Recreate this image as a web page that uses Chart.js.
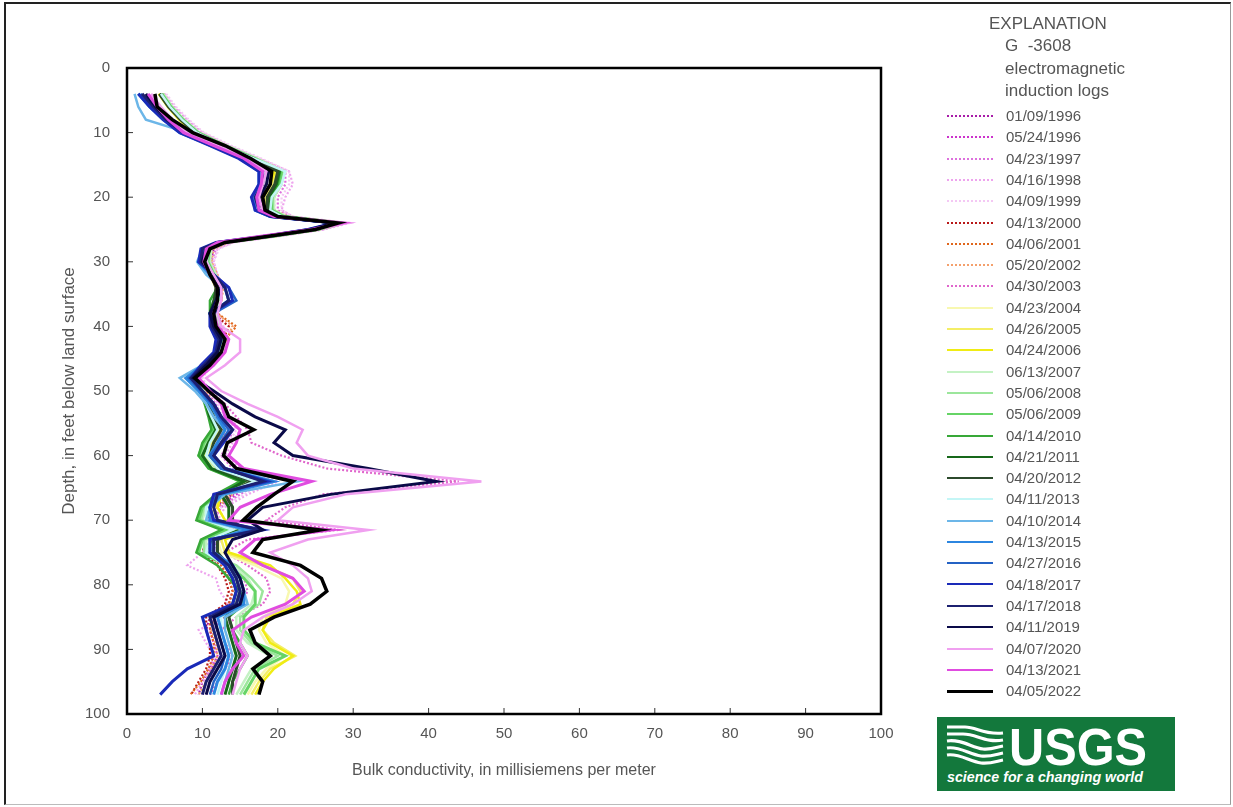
<!DOCTYPE html>
<html>
<head>
<meta charset="utf-8">
<script src="https://cdn.jsdelivr.net/npm/chart.js@4.4.1/dist/chart.umd.min.js"></script>
<style>
  body { margin: 0; background: #fff; }
  #page { position: relative; width: 1233px; height: 807px; overflow: hidden; font-family: "Liberation Sans", Arial, sans-serif; color: #555; }
  #frame { position: absolute; left: 4px; top: 2px; width: 1224px; height: 800px; border-left: 2px solid #222; border-top: 2px solid #222; border-right: 1px solid #999; border-bottom: 1px solid #bbb; }
  canvas { position: absolute; left: 0; top: 0; }
  .hdr { position: absolute; font-size: 17px; line-height: 20px; transform: translateY(-50%); white-space: pre; }
  .row { position: absolute; left: 947px; height: 22px; transform: translateY(-50%); }
  .row .swatch { position: absolute; left: 0; top: 11px; width: 46px; }
  .row .lbl { position: absolute; left: 59px; top: 0; font-size: 15px; line-height: 22px; white-space: nowrap; }
  #logo { position: absolute; left: 937px; top: 717px; }
</style>
</head>
<body>
<div id="page">
  <div id="frame"></div>
  <canvas id="logChart" width="1233" height="807"></canvas>
  <div class="hdr" style="left:989px;top:24px">EXPLANATION</div>
  <div class="hdr" style="left:1005px;top:46px">G  -3608</div>
  <div class="hdr" style="left:1005px;top:69px">electromagnetic</div>
  <div class="hdr" style="left:1005px;top:91px">induction logs</div>
  <div id="legend"></div>
  <svg id="logo" width="238" height="74" viewBox="0 0 238 74">
    <rect width="238" height="74" fill="#13783c"/>
    <g fill="none" stroke="#fff" stroke-width="3.2">
      <path d="M10 10 L28 10 C40 10 46 18 66 16"/>
      <path d="M10 17 L26 17 C40 17 48 26 66 23"/>
      <path d="M10 24 C24 22 34 30 46 32 C54 33 60 30 66 29"/>
      <path d="M10 31 C22 29 32 37 44 39 C54 40 60 37 66 36"/>
      <path d="M10 38 C22 36 32 44 44 46 C54 47 60 44 66 43"/>
    </g>
    <text x="72" y="48" fill="#fff" font-family="Liberation Sans, Arial, sans-serif" font-weight="bold" font-size="52" textLength="138" lengthAdjust="spacingAndGlyphs">USGS</text>
    <text x="10" y="65" fill="#fff" font-family="Liberation Sans, Arial, sans-serif" font-style="italic" font-weight="bold" font-size="14" textLength="196" lengthAdjust="spacingAndGlyphs">science for a changing world</text>
  </svg>
</div>
<script>
// ----- DATA -----
// depth below land surface (ft), shared by every log
const depths = [4, 6, 8, 10, 12, 14, 16, 18, 20, 22, 23, 24, 25, 26, 27, 28, 30, 32, 34, 36, 38, 40, 42, 44, 46, 48, 50, 52, 54, 56, 58, 60, 62, 64, 66, 68, 70, 71.5, 73, 75, 77, 79, 81, 83, 85, 87, 89, 91, 93, 95, 97]

const surveyDates = [
  '01/09/1996', '05/24/1996', '04/23/1997', '04/16/1998', '04/09/1999', '04/13/2000', '04/06/2001', '05/20/2002', '04/30/2003',
  '04/23/2004', '04/26/2005', '04/24/2006', '06/13/2007', '05/06/2008', '05/06/2009', '04/14/2010', '04/21/2011', '04/20/2012',
  '04/11/2013', '04/10/2014', '04/13/2015', '04/27/2016', '04/18/2017', '04/17/2018', '04/11/2019', '04/07/2020', '04/13/2021', '04/05/2022',
]

// bulk conductivity (mS/m) at each depth
const c1996a = [4.8,6.0,7.5,9.5,13.0,17.0,20.0,20.5,19.5,19.5, 21.0,28.5,25.5,19.5,13.5,11.5,11.0,11.5,12.0,12.0, 11.5,12.0,12.5,12.0,10.5,9.0,10.0,11.0,11.5,12.5, 12.0,11.0,12.5,16.0,14.0,11.5,10.5,14.5,11.0,10.5, 12.5,13.5,14.0,13.5,11.0,10.5,11.0,11.5,11.0,10.0, 9.5]
const c1996b = [4.6,5.8,7.3,9.3,12.8,16.8,20.5,20.0,19.0,19.5, 21.0,28.8,25.5,19.5,13.3,11.3,10.8,11.5,12.2,12.0, 11.8,12.2,12.8,12.2,10.8,9.2,10.2,11.2,12.0,13.0, 12.5,11.5,13.0,17.0,14.5,12.0,11.0,15.5,11.5,11.0, 13.0,14.0,14.5,14.0,11.5,11.0,11.5,12.0,11.2,10.5, 10.0]
const c1997 = [4.9,6.2,7.8,9.8,13.2,17.2,21.0,21.0,20.0,20.0, 21.5,29.0,26.0,20.0,13.8,11.8,11.2,11.8,12.5,12.5, 12.0,12.5,13.0,12.5,11.0,9.5,10.5,11.8,12.5,14.0, 13.5,12.5,14.0,18.0,15.0,12.5,11.5,16.0,12.0,11.5, 14.0,15.5,16.0,15.0,12.5,11.5,12.0,12.5,11.5,11.0, 10.5]
const c1998 = [5.0,6.3,8.0,10.0,13.5,17.5,21.5,22.0,21.0,20.5, 22.0,29.5,26.0,20.5,14.0,12.0,11.5,12.0,12.5,12.5, 12.0,12.5,13.0,12.5,11.0,9.8,11.0,12.5,13.5,15.0, 14.0,13.0,15.0,20.0,16.0,13.0,12.0,17.0,12.5,10.0, 8.0,11.8,12.3,13.5,13.0,9.5,10.5,11.5,11.0,10.0, 9.0]
const c1999 = [5.2,6.5,8.2,10.2,13.8,17.8,21.5,21.5,20.5,20.5, 22.0,29.0,26.0,20.5,14.2,12.2,11.5,12.0,12.5,12.5, 12.2,12.8,13.2,12.8,11.2,10.0,11.0,12.0,13.0,14.5, 13.5,12.5,14.5,19.0,15.5,12.5,11.5,16.5,12.5,11.5, 13.5,15.0,15.5,14.5,12.0,11.5,12.0,12.5,11.5,10.5, 10.0]
const c2000 = [4.5,5.6,7.2,9.2,12.8,16.8,20.0,19.0,18.0,18.5, 20.5,28.5,25.0,19.5,13.0,11.0,10.8,11.5,12.0,12.0, 11.5,13.5,12.8,12.0,10.5,9.0,10.0,11.0,11.5,12.0, 11.5,10.5,12.0,15.0,13.0,11.0,10.5,13.5,10.5,10.0, 12.0,13.0,13.5,13.0,10.5,10.5,11.0,11.0,10.5,9.5, 8.5]
const c2001 = [4.7,5.8,7.4,9.4,13.0,17.0,20.5,19.5,18.5,19.0, 21.0,28.8,25.5,19.8,13.2,11.2,11.0,11.8,12.5,12.5, 12.0,14.5,13.0,12.2,10.8,9.2,10.2,11.2,11.8,12.5, 12.0,11.0,12.5,15.5,13.5,11.5,11.0,14.0,11.0,10.5, 12.5,13.5,14.0,13.5,11.0,11.0,11.5,11.5,10.8,9.8, 8.4]
const c2002 = [4.8,6.0,7.6,9.6,13.2,17.2,21.0,20.5,19.5,19.5, 21.5,29.0,25.5,20.0,13.5,11.5,11.2,12.0,12.8,12.5, 12.0,14.0,13.2,12.5,11.0,9.5,10.5,11.5,12.0,13.0, 12.5,11.5,13.0,16.5,14.0,12.0,11.5,15.0,11.5,11.0, 13.0,14.0,14.5,14.0,11.5,11.2,11.8,12.0,11.2,10.5, 9.5]
const c2003 = [4.6,5.8,7.4,9.4,12.8,16.8,20.5,20.0,19.0,19.0, 21.0,29.0,25.5,19.5,13.2,11.2,11.0,11.5,12.5,12.5, 12.0,12.5,13.5,13.0,11.5,9.5,11.0,13.0,14.5,16.0, 16.5,20.5,26.5,44.0,26.0,21.0,18.5,28.0,16.0,13.0, 16.0,18.5,19.0,18.0,14.5,12.5,13.0,14.0,13.0,12.0, 11.0]
const c2004 = [4.4,5.6,7.2,9.2,12.8,16.8,20.0,19.5,18.5,18.8, 20.5,28.5,25.0,19.5,13.0,11.0,10.8,11.5,12.2,12.0, 11.5,12.0,12.5,12.0,10.5,9.0,10.0,11.0,11.5,12.5, 11.5,10.5,12.0,16.0,13.0,11.5,11.5,15.0,12.0,12.5, 17.0,20.5,21.5,21.0,18.0,17.5,18.5,21.0,18.5,17.0, 16.0]
const c2005 = [4.3,5.5,7.0,9.0,12.5,16.5,19.8,19.2,18.2,18.5, 20.2,28.2,24.8,19.2,12.8,10.8,10.5,11.2,12.0,11.8, 11.2,11.8,12.2,11.8,10.2,8.8,9.8,10.8,11.2,12.2, 11.2,10.2,11.8,15.5,12.8,11.5,12.0,15.5,12.5,13.0, 18.0,22.0,23.0,22.0,18.5,18.0,19.5,22.3,19.0,17.5, 16.5]
const c2006 = [4.2,5.4,6.9,8.9,12.4,16.4,19.6,19.0,18.0,18.3, 20.0,28.0,24.6,19.0,12.6,10.6,10.4,11.0,11.8,11.6, 11.0,11.6,12.0,11.6,10.0,8.6,9.6,10.6,11.0,12.0, 11.0,10.0,11.5,15.0,12.5,12.0,13.0,16.0,13.0,13.5, 19.0,21.0,22.5,23.0,19.0,18.0,19.0,22.0,19.5,18.0, 17.0]
const c2007 = [4.8,6.0,7.6,9.6,13.2,17.2,20.8,20.5,19.5,19.5, 21.2,28.8,25.5,19.8,13.2,11.2,11.0,11.8,12.5,12.2, 11.8,12.2,12.8,12.2,10.8,9.2,10.2,11.0,11.5,12.0, 11.0,10.0,11.5,15.5,12.5,10.5,10.0,14.0,10.5,10.5, 14.0,16.0,17.0,16.5,14.5,14.5,16.0,19.0,16.5,15.5, 14.5]
const c2008 = [4.7,5.9,7.5,9.5,13.0,17.0,20.6,20.3,19.3,19.3, 21.0,28.6,25.3,19.6,13.0,11.0,10.8,11.6,12.3,12.0, 11.6,12.0,12.6,12.0,10.6,9.0,10.0,10.8,11.2,11.8, 10.5,9.8,11.2,15.0,12.2,10.2,9.8,13.5,10.2,10.2, 14.5,16.5,18.0,17.5,15.0,15.0,16.5,20.0,17.0,16.0, 15.0]
const c2009 = [4.6,5.8,7.4,9.4,12.9,16.9,20.5,20.2,19.2,19.2, 20.8,28.5,25.2,19.5,12.9,10.9,10.7,11.5,12.2,11.9, 11.5,11.9,12.5,11.9,10.5,8.9,9.8,10.5,11.0,11.5, 10.2,9.5,11.0,15.5,12.0,10.0,9.5,13.0,10.0,9.5, 13.5,15.5,17.0,17.0,15.5,15.5,17.0,21.0,17.5,16.5, 15.5]
const c2010 = [4.5,5.7,7.3,9.3,12.8,16.8,20.3,20.0,19.0,19.0, 20.6,28.3,25.0,19.3,12.8,10.8,10.6,11.4,12.0,11.0, 11.0,11.8,12.3,11.8,10.3,8.8,9.7,10.3,10.8,11.2, 10.0,9.5,10.8,15.0,11.8,9.8,9.2,12.5,9.8,9.2, 12.0,13.5,15.0,15.5,13.5,14.0,15.0,16.0,15.0,14.0, 13.5]
const c2011 = [4.4,5.6,7.2,9.2,12.7,16.7,20.2,19.8,18.8,18.8, 20.4,28.2,24.8,19.2,12.7,10.7,10.5,11.3,12.0,11.5, 11.0,11.6,12.2,11.7,10.2,8.7,9.8,10.5,11.0,11.8, 10.8,10.0,11.2,15.5,12.5,13.5,13.5,15.0,11.0,11.5, 13.0,14.0,14.5,14.0,13.0,13.5,14.0,14.5,14.0,13.5, 13.0]
const c2012 = [4.3,5.5,7.1,9.1,12.6,16.6,20.0,19.6,18.6,18.6, 20.2,28.0,24.6,19.0,12.6,10.6,10.4,11.2,11.8,11.6, 11.2,11.8,12.3,11.8,10.3,8.8,9.9,10.8,11.5,12.5, 11.5,11.0,12.0,16.5,13.0,14.0,14.0,15.5,12.0,12.0, 13.5,14.5,15.0,14.5,13.5,14.0,14.5,15.0,14.5,14.0, 14.0]
const c2013 = [4.5,5.7,7.3,9.3,12.8,16.8,21.0,20.5,19.2,19.0, 20.6,28.3,25.0,19.3,12.8,10.8,10.6,11.4,12.2,12.0, 11.5,12.0,12.5,12.0,10.5,8.5,9.5,10.5,11.2,12.0, 11.0,10.5,12.0,17.0,12.5,10.5,10.5,14.0,11.0,10.5, 13.0,14.5,15.0,14.5,12.5,12.5,13.0,13.5,13.0,12.5, 12.0]
const c2014 = [1.0,1.5,2.5,8.0,11.0,15.5,18.5,18.0,17.0,17.0, 19.0,27.5,24.0,18.5,12.0,10.0,9.3,10.5,12.5,12.0, 11.0,11.5,12.5,12.0,10.0,7.0,9.0,10.5,11.5,13.0, 12.0,11.0,13.0,22.5,13.0,11.0,10.5,15.5,11.5,11.0, 14.0,15.0,15.5,16.0,13.0,13.0,13.5,14.0,13.5,13.0, 12.5]
const c2015 = [1.5,3.0,4.8,7.0,11.2,15.0,17.5,17.5,16.8,17.0, 19.0,27.8,24.2,18.5,12.0,10.0,9.5,11.0,13.0,13.5, 11.0,11.5,12.5,12.0,10.0,7.8,9.5,11.0,12.0,13.0, 12.0,11.0,12.5,19.5,12.5,11.0,11.0,16.0,11.5,11.5, 14.0,15.0,15.5,15.5,12.0,12.5,13.0,13.5,13.0,12.0, 11.5]
const c2016 = [1.8,3.2,5.0,7.2,11.5,15.5,18.0,18.0,17.2,17.5, 19.3,28.0,24.5,18.8,12.2,10.2,9.8,11.5,13.5,14.5, 11.5,11.2,12.0,11.8,10.0,8.2,9.8,11.2,12.2,13.5, 12.5,11.0,12.5,19.0,12.0,11.0,11.5,17.0,11.0,11.0, 13.5,14.5,15.0,15.0,11.5,12.0,12.5,13.0,12.5,11.5, 11.0]
const c2017 = [1.5,3.0,4.8,7.0,11.0,14.8,17.5,17.5,16.5,17.0, 19.0,27.5,24.0,18.5,11.8,9.8,9.5,11.5,13.5,14.0, 11.0,11.0,11.8,11.5,9.8,8.5,10.0,11.5,12.5,14.0, 12.8,11.5,13.0,18.5,11.5,11.0,11.5,18.0,11.0,11.0, 13.0,14.0,14.5,14.0,10.0,10.5,11.0,11.5,8.0,6.0, 4.4]
const c2018 = [2.0,3.5,5.2,7.5,11.5,15.5,18.0,18.0,17.0,17.5, 19.2,27.8,24.3,18.8,12.0,10.0,9.8,11.5,13.0,13.5, 11.2,11.2,12.2,11.8,10.2,8.5,10.0,11.5,12.5,14.0, 12.5,11.5,13.0,18.0,12.0,11.5,12.0,17.5,11.5,11.5, 13.5,14.5,15.0,14.5,11.0,11.5,12.0,12.5,11.5,10.5, 10.0]
const c2019 = [2.5,3.8,5.5,7.8,11.8,16.0,18.8,18.5,17.6,18.0, 19.5,27.5,24.5,18.5,12.5,10.5,10.0,11.2,12.5,11.8, 11.0,11.5,12.5,12.0,10.5,8.8,11.5,14.0,17.0,21.0, 19.5,22.0,32.0,41.0,27.0,18.0,16.0,18.0,14.0,13.0, 14.0,15.0,15.5,15.0,11.5,12.0,12.5,13.0,12.0,11.0, 10.5]
const c2020 = [3.2,4.5,6.0,8.0,12.0,16.0,18.5,18.0,17.5,18.0, 20.0,29.3,25.0,18.5,12.5,10.8,10.5,11.5,12.5,12.5, 12.0,12.5,15.0,15.0,13.0,10.5,12.5,16.0,20.0,23.3, 22.5,24.0,30.0,47.0,29.0,22.0,20.0,32.0,24.0,19.0, 22.0,24.0,24.5,22.0,18.0,15.5,15.0,16.0,15.0,14.5, 14.0]
const c2021 = [2.8,4.0,5.5,7.5,11.5,15.5,18.0,17.8,17.2,17.5, 19.5,28.5,24.5,18.0,12.0,10.5,10.2,11.0,12.0,12.0, 11.5,12.0,13.5,13.0,11.5,9.5,11.0,12.5,13.0,15.0, 14.5,13.5,15.5,24.5,19.0,15.0,13.5,27.0,17.0,15.0, 18.0,22.0,23.5,21.0,16.5,14.0,14.5,15.5,14.0,13.0, 12.5]
const c2022 = [3.7,4.0,6.0,8.7,13.0,16.4,19.2,19.0,18.0,18.3, 20.0,28.0,25.0,19.0,13.0,11.0,10.3,11.0,12.0,12.0, 11.5,11.8,13.0,12.5,11.0,9.0,10.8,12.8,13.5,16.8, 13.3,12.8,14.5,22.0,19.5,17.2,15.4,25.6,18.0,16.7, 23.0,25.8,26.5,24.3,19.5,16.3,17.0,19.0,16.7,18.0, 17.5]

const logs = [c1996a, c1996b, c1997, c1998, c1999, c2000, c2001, c2002, c2003,
  c2004, c2005, c2006, c2007, c2008, c2009, c2010, c2011, c2012,
  c2013, c2014, c2015, c2016, c2017, c2018, c2019, c2020, c2021, c2022]

// ----- STYLE -----
const lineColors = [
  '#a81ca8', '#cc33cc', '#dd70dd', '#eea4ee', '#f4c8f4', '#b81818', '#e0661c', '#f4a06c', '#e066cc',
  '#f8f8b0', '#f4ee66', '#f0ec14', '#c4f2c4', '#9ce69c', '#66d466', '#38a838', '#17681a', '#2c4a2c',
  '#c4f6f6', '#6cb6e8', '#2c86e0', '#2462c4', '#1a2ab8', '#1c2070', '#0a0a48', '#f0a0f0', '#e04ce0', '#000000',
]
const lineWidths = [2.2, 2.2, 2.2, 2.2, 2.2, 2.2, 2.2, 2.2, 2.2, 2.5, 2.5, 2.5, 2.5, 2.5, 3, 2.5, 3, 3, 2.5, 2.5, 3, 2.5, 3, 3, 3, 2.5, 3, 3.5]
const dottedCount = 9 // the 1996-2003 logs are drawn dotted

const FONT = '"Liberation Sans", Arial, sans-serif'
const TEXT = '#555'

// ----- CHART -----
// inward tick marks and the heavy frame round the plot
const frameAndTicks = {
  id: 'frameAndTicks',
  afterDraw(chart) {
    const { ctx, chartArea: a, scales: { x, y } } = chart
    ctx.save()
    ctx.strokeStyle = '#333'
    ctx.lineWidth = 1
    ctx.beginPath()
    y.ticks.forEach((t) => {
      const py = y.getPixelForValue(t.value)
      ctx.moveTo(a.left, py)
      ctx.lineTo(a.left + 6, py)
    })
    x.ticks.forEach((t) => {
      const px = x.getPixelForValue(t.value)
      ctx.moveTo(px, a.bottom)
      ctx.lineTo(px, a.bottom - 6)
    })
    ctx.stroke()
    ctx.strokeStyle = '#000'
    ctx.lineWidth = 2.5
    ctx.strokeRect(a.left, a.top, a.right - a.left, a.bottom - a.top)
    ctx.restore()
  },
}

const datasets = logs.map((vals, i) => ({
  label: surveyDates[i],
  data: vals.map((v, k) => ({ x: v, y: depths[k] })),
  showLine: true,
  borderColor: lineColors[i],
  backgroundColor: lineColors[i],
  borderWidth: lineWidths[i],
  borderDash: i < dottedCount ? [2, 2] : [],
  pointRadius: 0,
  tension: 0,
  order: logs.length - i, // newest log on top
}))

new Chart(document.getElementById('logChart'), {
  type: 'scatter',
  data: { datasets },
  options: {
    responsive: false,
    animation: false,
    layout: { padding: { left: 0, right: 352, top: 68, bottom: 0 } },
    plugins: { legend: { display: false }, tooltip: { enabled: false } },
    scales: {
      x: {
        type: 'linear',
        min: 0,
        max: 100,
        afterFit: (s) => { s.height = 93 },
        grid: { display: false, drawTicks: false },
        border: { display: false },
        ticks: { stepSize: 10, padding: 11, color: TEXT, font: { family: FONT, size: 15 } },
        title: {
          display: true,
          text: 'Bulk conductivity, in millisiemens per meter',
          color: TEXT,
          font: { family: FONT, size: 16 },
          padding: { top: 0, bottom: 27 },
        },
      },
      y: {
        type: 'linear',
        reverse: true,
        min: 0,
        max: 100,
        afterFit: (s) => { s.width = 127 },
        grid: { display: false, drawTicks: false },
        border: { display: false },
        ticks: { stepSize: 10, padding: 17, color: TEXT, font: { family: FONT, size: 15 } },
        title: {
          display: true,
          text: 'Depth, in feet below land surface',
          color: TEXT,
          font: { family: FONT, size: 17 },
          padding: { top: 59, bottom: 0 },
        },
      },
    },
  },
  plugins: [frameAndTicks],
})

// ----- LEGEND -----
const legendEl = document.getElementById('legend')
surveyDates.forEach((d, i) => {
  const row = document.createElement('div')
  row.className = 'row'
  row.style.top = (116 + i * 21.3).toFixed(1) + 'px'
  const w = i < dottedCount ? 2 : Math.max(2, lineWidths[i] - 0.5)
  row.innerHTML = `
    <div class="swatch" style="border-top:${w}px ${i < dottedCount ? 'dotted' : 'solid'} ${lineColors[i]};margin-top:${-w / 2}px"></div>
    <div class="lbl">${d}</div>`
  legendEl.appendChild(row)
})
</script>
</body>
</html>
